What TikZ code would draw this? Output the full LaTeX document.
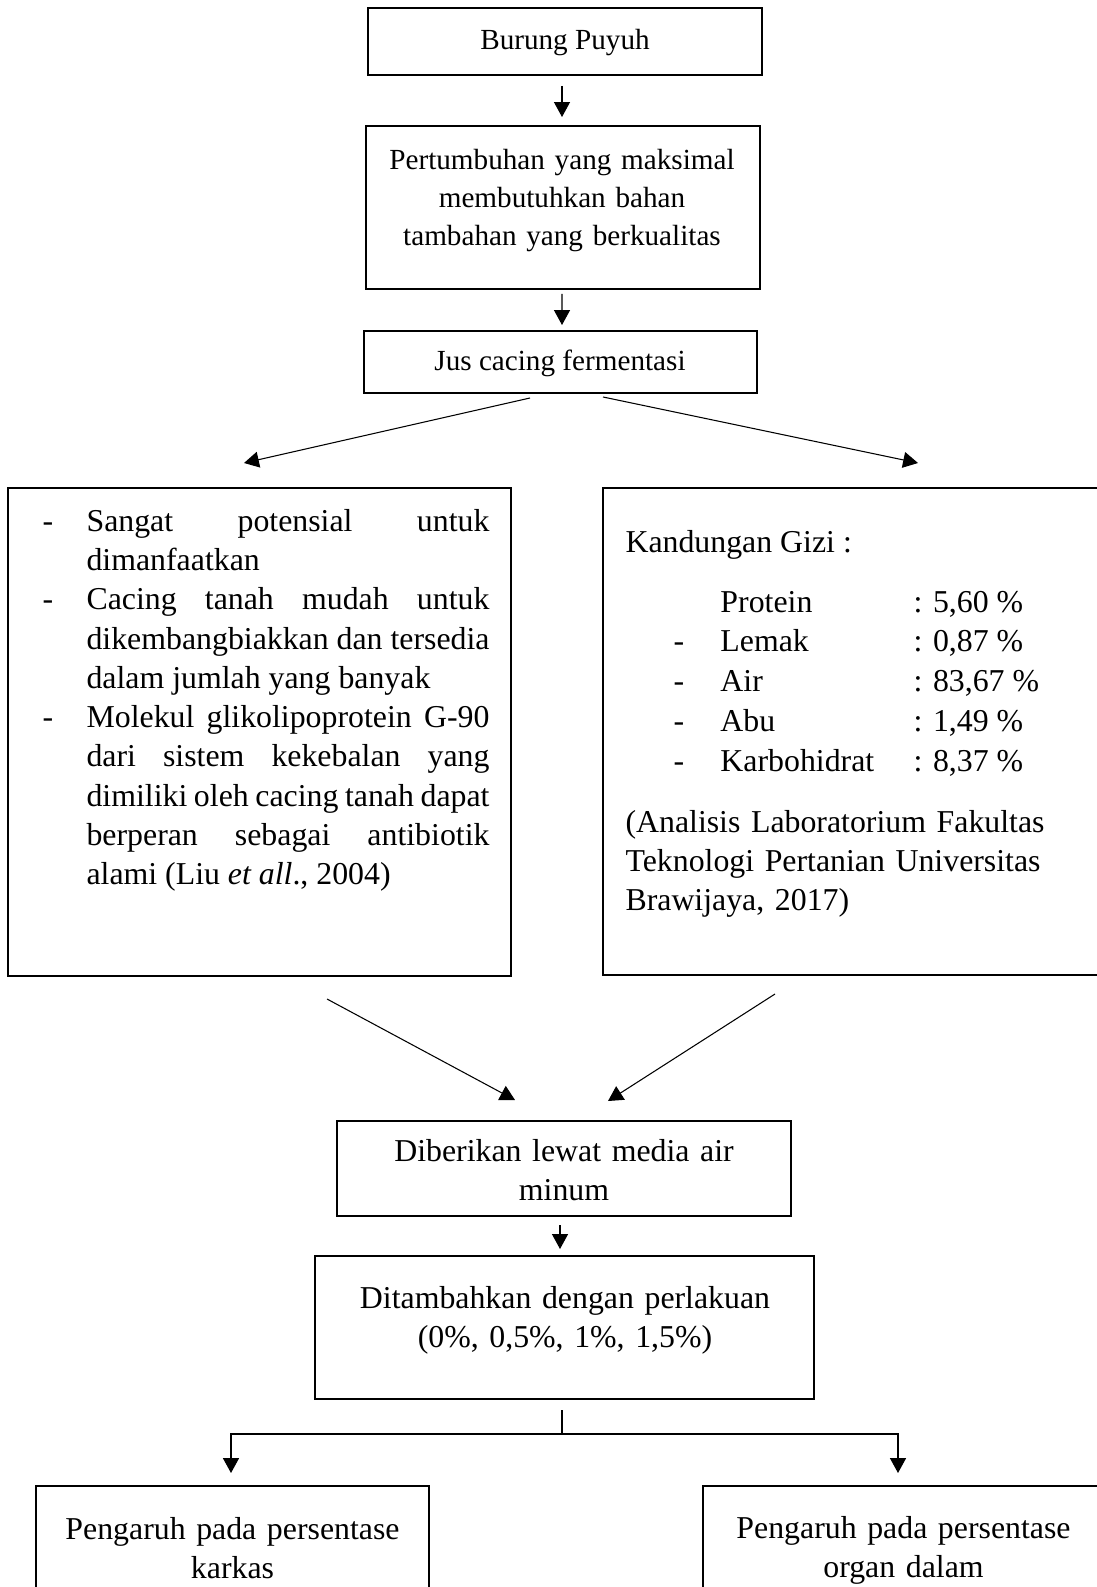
\documentclass[tikz,border=0pt]{standalone}
\usepackage{fontspec}
\setmainfont{Liberation Serif}
\usetikzlibrary{arrows.meta,calc,fit}
\tolerance=10000 \hbadness=10000 \hyphenpenalty=10000 \exhyphenpenalty=10000
\newenvironment{daftarstrip}{\begin{list}{-}{\setlength{\leftmargin}{16.6pt}\setlength{\labelwidth}{16.6pt}\setlength{\labelsep}{0pt}\setlength{\itemsep}{0pt}\setlength{\parsep}{0pt}\setlength{\topsep}{0pt}\setlength{\partopsep}{0pt}\renewcommand{\makelabel}[1]{##1\hfil}}}{\end{list}}
\tikzset{kotak/.style={draw,line width=.75pt,inner sep=0pt},
  tks/.style={inner sep=0pt,font=\fontsize{12pt}{14.8pt}\selectfont},
  tkk/.style={inner sep=0pt,font=\fontsize{11pt}{14.3pt}\selectfont},
  panah/.style={-{Triangle[length=5.6pt,width=6pt]},line width=.4pt}}
\begin{document}
\begin{tikzpicture}[x=.377pt,y=-.377pt]
\useasboundingbox(0,0)rectangle(1097,1587);\clip(0,0)rectangle(1097,1587);
\node[kotak,fit={(368,8)(762,75)}](puyuh){};\node[tkk,anchor=base](tpuyuh)at(565,50){Burung Puyuh};
\node[kotak,fit={(366,126)(760,289)}](tumbuh){};\node[tkk,anchor=base,text width=140pt,align=center](ttumbuh)at(562,170){Pertumbuhan yang maksimal\\membutuhkan bahan\\tambahan yang berkualitas};
\node[kotak,fit={(364,331)(757,393)}](jus){};\node[tkk,anchor=base](tjus)at(560,370){Jus cacing fermentasi};
\draw[panah]($(puyuh.south)+(-3,10)$)--($(tumbuh.north)+(-1,-8)$);\draw[panah]($(tumbuh.south)+(-1,4)$)--($(jus.north)+(1.5,-5)$);
\coordinate(ujungkiri)at(244,463);\coordinate(ujungkanan)at(918,463);
\draw[panah]($(jus.south)+(-30.5,4)$)--(ujungkiri);\draw[panah]($(jus.south)+(42.5,3)$)--(ujungkanan);
\node[kotak,fit={(8,488)(511,976)}](manfaat){};
\node[tks,anchor=base west,text width=168.5pt,align=justify](tmanfaat)at(42,492){\begin{daftarstrip}
\item Sangat potensial untuk\linebreak dimanfaatkan
\item Cacing tanah mudah untuk\linebreak dikembangbiakkan dan tersedia\linebreak dalam jumlah yang banyak
\item Molekul glikolipoprotein G-90\linebreak dari sistem kekebalan yang\linebreak dimiliki oleh cacing tanah dapat\linebreak berperan sebagai antibiotik\linebreak alami (Liu \textit{et all}., 2004)
\end{daftarstrip}};
\node[kotak,fit={(603,488)(1115,975)}](gizi){};
\node[tks,anchor=base west](jgizi)at(625,552){Kandungan Gizi :};
\node[tks,anchor=base west](tabgizi)at(673,612){\renewcommand{\arraystretch}{1.014}\begin{tabular}[t]{@{}p{17.7pt}@{}p{72.8pt}@{}l@{}}&Protein&: 5,60 \%\\-&Lemak&: 0,87 \%\\-&Air&: 83,67 \%\\-&Abu&: 1,49 \%\\-&Karbohidrat&: 8,37 \%\end{tabular}};
\node[tks,anchor=base west,text width=175pt,align=left](sgizi)at(625,832){(Analisis Laboratorium Fakultas\\Teknologi Pertanian Universitas\\Brawijaya, 2017)};
\coordinate(masukkiri)at(515,1100);\coordinate(masukkanan)at(608,1101);
\draw[panah]($(manfaat.south)+(67.5,22)$)--(masukkiri);\draw[panah]($(gizi.south)+(-84,18)$)--(masukkanan);
\node[kotak,fit={(337,1121)(791,1216)}](media){};\node[tks,anchor=base,text width=165pt,align=center](tmedia)at(564,1161){Diberikan lewat media air\\minum};
\node[kotak,fit={(315,1256)(814,1399)}](perlakuan){};\node[tks,anchor=base,text width=175pt,align=center](tperlakuan)at(565,1308){Ditambahkan dengan perlakuan\\(0\%, 0,5\%, 1\%, 1,5\%)};
\draw[panah]($(media.south)+(-4,8)$)--($(perlakuan.north)+(-4.5,-6)$);
\node[kotak,fit={(36,1486)(429,1640)}](karkas){};\node[tks,anchor=base,text width=140pt,align=center](tkarkas)at(232.5,1539){Pengaruh pada persentase\\karkas};
\node[kotak,fit={(703,1486)(1115,1640)}](organ){};\node[tks,anchor=base,text width=140pt,align=center](torgan)at(903.5,1538){Pengaruh pada persentase\\organ dalam};
\coordinate(cabang)at(562,1434);
\draw[line width=.5pt]($(perlakuan.south)+(-2.5,10)$)--(cabang);
\draw[panah,line width=.5pt](cabang)-|($(karkas.north)+(-1.5,-12)$);\draw[panah,line width=.5pt](cabang)-|($(organ.north)+(-11,-12)$);
\end{tikzpicture}
\end{document}
